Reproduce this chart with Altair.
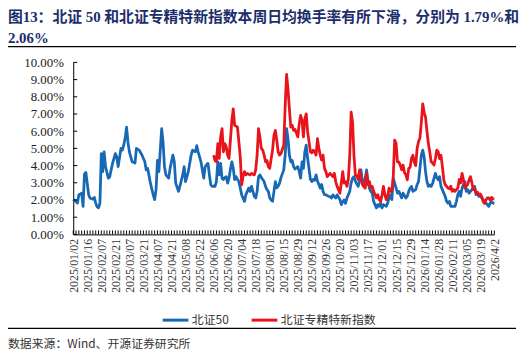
import json
import altair as alt
import pandas as pd

# x-axis category labels (every 10 trading days)
labels = ["2025/01/02", "2025/01/16", "2025/02/07", "2025/02/21", "2025/03/07",
          "2025/03/21", "2025/04/07", "2025/04/21", "2025/05/08", "2025/05/22",
          "2025/06/06", "2025/06/20", "2025/07/04", "2025/07/18", "2025/08/01",
          "2025/08/15", "2025/08/29", "2025/09/12", "2025/09/26", "2025/10/20",
          "2025/11/03", "2025/11/17", "2025/12/01", "2025/12/15", "2025/12/29",
          "2026/01/14", "2026/01/28", "2026/02/11", "2026/03/05", "2026/03/19",
          "2026/4/2"]

series_names = ["北证50", "北证专精特新指数"]

# 北证50 turnover (%), by trading-day index
blue_idx = [0, 1, 3, 4, 6, 7, 8, 9, 11, 12, 14, 15, 16, 17, 18, 19, 20, 21, 22, 23,
            25, 26, 28, 30, 31, 32, 34, 35, 36, 37, 38, 39, 40, 42, 44, 45, 47, 49, 51, 52,
            53, 55, 57, 58, 59, 60, 61, 63, 64, 65, 66, 68, 69, 71, 72, 73, 75, 76, 78, 79,
            80, 82, 84, 85, 87, 88, 89, 91, 93, 94, 95, 96, 97, 98, 99, 100, 101, 102, 103, 104,
            105, 106, 107, 108, 109, 110, 111, 112, 113, 114, 115, 116, 117, 118, 119, 120, 121, 122, 123, 124,
            125, 126, 127, 128, 129, 130, 131, 132, 133, 134, 135, 136, 137, 138, 139, 140, 141, 142, 143, 144,
            145, 146, 147, 148, 150, 151, 152, 153, 154, 155, 156, 157, 158, 160, 161, 162, 163, 164, 165, 166,
            167, 169, 170, 171, 172, 173, 174, 176, 177, 178, 179, 180, 182, 183, 184, 185, 186, 187, 188, 190,
            191, 192, 193, 194, 195, 197, 198, 199, 200, 201, 203, 204, 205, 206, 207, 209, 210, 211, 212, 213,
            214, 216, 217, 218, 219, 220, 221, 223, 224, 225, 226, 227, 228, 230, 231, 232, 233, 234, 235, 237,
            238, 239, 240, 241, 242, 244, 245, 246, 247, 248, 249, 250, 251, 252, 253, 254, 255, 256, 258, 259,
            260, 261, 262, 264, 265, 266, 267, 268, 269, 270, 272, 273, 274, 275, 276, 277, 279, 280, 281, 282,
            283, 284, 286, 287, 288, 289, 290, 291, 292, 293, 295, 296, 297, 298, 299, 300]
blue_val = [1.92, 2.0, 1.83, 2.3, 2.4, 1.63, 3.5, 3.6, 2.3, 2.1, 2.05, 2.15, 1.83, 1.6, 1.55, 1.8, 4.7, 3.65, 4.8, 3.94,
            3.27, 3.35, 4.13, 4.7, 4.5, 3.94, 5.0, 4.9, 5.2, 5.6, 6.24, 5.35, 4.8, 4.22, 4.15, 5.0, 4.9, 4.6, 4.22, 3.75,
            3.84, 2.98, 2.3, 2.02, 2.6, 4.3, 3.65, 6.15, 5.35, 3.94, 3.46, 3.27, 3.84, 4.61, 4.22, 2.98, 2.5, 2.8, 3.46, 3.94,
            3.07, 3.65, 4.61, 4.9, 4.8, 5.16, 4.8, 4.22, 3.27, 3.94, 4.05, 4.13, 3.46, 2.88, 2.79, 2.8, 2.79, 3.07, 4.22, 3.46,
            4.13, 3.27, 3.19, 3.3, 3.36, 2.98, 3.27, 3.8, 4.22, 3.84, 3.19, 3.36, 3.2, 3.07, 2.69, 2.31, 2.1, 1.92, 2.31, 2.5,
            2.69, 2.5, 2.79, 2.5, 2.21, 2.12, 2.5, 3.36, 3.46, 3.3, 3.19, 3.07, 2.79, 2.6, 2.5, 2.12, 2.0, 1.92, 2.5, 3.07,
            2.7, 2.8, 2.98, 3.3, 3.75, 4.61, 6.15, 5.57, 4.61, 4.22, 4.3, 3.94, 3.8, 3.94, 3.65, 3.27, 4.22, 3.84, 4.8, 5.19,
            4.42, 3.19, 3.07, 3.2, 3.15, 3.46, 3.1, 2.69, 2.9, 2.5, 2.31, 2.3, 2.21, 2.2, 2.12, 2.3, 2.2, 2.12, 2.3, 2.02,
            1.73, 1.9, 2.0, 1.8, 2.12, 2.5, 3.0, 3.27, 3.36, 3.1, 2.79, 3.1, 3.75, 3.1, 2.79, 3.75, 3.1, 2.69, 2.5, 2.4,
            1.92, 1.54, 1.73, 1.63, 1.82, 1.54, 1.73, 1.63, 1.82, 2.12, 2.31, 2.02, 3.27, 2.69, 2.4, 2.5, 2.31, 2.12, 2.4, 2.12,
            2.21, 2.5, 2.69, 2.79, 2.5, 2.6, 2.9, 3.07, 3.84, 4.61, 4.9, 4.5, 3.65, 3.07, 2.79, 2.88, 2.79, 2.95, 3.55, 3.3,
            3.17, 3.36, 2.79, 2.4, 2.21, 1.92, 1.82, 1.92, 1.63, 1.63, 1.63, 1.92, 2.31, 2.5, 2.21, 2.69, 3.07, 2.5, 2.6, 2.4,
            2.5, 2.6, 2.79, 2.31, 2.4, 2.21, 2.31, 2.12, 2.02, 1.92, 1.73, 1.63, 1.82, 1.92, 1.82, 1.79]

# 北证专精特新指数 turnover (%), from its launch
red_idx = list(range(100, 148)) + [148, 150, 151, 152, 153, 154] + list(range(155, 168)) + \
          list(range(169, 182)) + list(range(183, 189)) + list(range(190, 301))
red_val = [4.61, 4.3, 4.22, 5.28, 4.42, 5.67, 6.15, 4.8, 5.28, 5.09, 4.61, 4.42, 5.5, 6.63, 7.3, 6.34, 6.3, 6.24, 5.38, 4.51,
           2.88, 3.4, 3.65, 3.46, 3.55, 3.5, 3.46, 3.55, 3.5, 3.46, 3.75, 4.61, 6.15, 5.67, 5.0, 4.9, 4.61, 4.22, 4.3, 3.94,
           3.84, 4.4, 4.9, 5.76, 6.05, 5.47, 4.8, 4.61,
           4.7, 5.19, 7.49, 9.3, 8.45, 7.3,
           6.24, 6.34, 6.05, 6.1, 5.9, 5.67, 6.43, 6.92, 6.63, 5.67, 6.72, 7.01, 5.96,
           4.8, 4.75, 4.9, 4.8, 4.61, 5.57, 5.0, 4.6, 4.32, 4.61, 3.84, 3.65, 3.36,
           3.55, 3.46, 3.36, 3.55, 3.07, 2.79,
           2.4, 3.0, 3.65, 2.98, 3.07, 2.79, 3.2, 4.61, 7.11, 6.53, 4.61, 3.46, 3.4, 3.19, 3.75, 3.27, 2.9, 2.79, 2.69, 3.55,
           2.9, 3.07, 2.69, 2.79, 2.5, 2.31, 2.12, 2.31, 2.02, 1.92, 2.3, 2.79, 2.31, 2.02, 2.2, 2.69, 2.5, 2.5, 3.36, 5.48,
           5.3, 4.22, 4.2, 4.03, 3.75, 4.03, 3.6, 3.46, 3.17, 3.84, 3.9, 4.42, 4.6, 4.2, 4.0, 5.0, 5.4, 5.6, 6.5, 7.59,
           7.1, 6.82, 6.0, 5.28, 4.8, 4.22, 4.15, 4.03, 4.4, 4.9, 4.8, 4.4, 4.6, 3.94, 3.17, 2.88, 2.8, 2.69, 2.65, 2.8,
           2.5, 2.6, 2.5, 2.6, 2.69, 3.2, 3.0, 3.55, 3.17, 2.69, 2.79, 2.9, 3.17, 3.36, 3.0, 2.6, 2.65, 2.4, 2.45, 2.3,
           2.35, 2.21, 1.92, 1.8, 2.0, 2.12, 2.12, 2.0, 2.15, 2.06, 2.06]

y_ticks = [0, 1, 2, 3, 4, 5, 6, 7, 8, 9, 10]
x_ticks = list(range(0, 301, 2))

title1 = "图13：北证 50 和北证专精特新指数本周日均换手率有所下滑，分别为 1.79%和"
title2 = "2.06%"
source = "数据来源：Wind、开源证券研究所"

BLUE = "#1768B5"
RED = "#E8131B"
TITLE_C = "#1B2D6B"
SERIF = "Liberation Serif, Noto Sans CJK SC"
CJK = "Noto Sans CJK SC"

df = pd.concat([
    pd.DataFrame({"idx": blue_idx, "value": blue_val, "series": series_names[0]}),
    pd.DataFrame({"idx": red_idx, "value": red_val, "series": series_names[1]}),
])

label_js = json.dumps(labels, ensure_ascii=False)

x_scale = alt.Scale(domain=[0, 300], nice=False, zero=False)
y_scale = alt.Scale(domain=[0, 10], nice=False)
x_axis = alt.Axis(values=list(range(0, 301, 10)),
                  labelExpr=f"{label_js}[round(datum.value / 10)]",
                  labelAngle=270, labelFont="Liberation Serif", labelFontSize=12,
                  labelColor="#333333", labelOverlap=False, labelFlush=False,
                  labelPadding=4, ticks=False, grid=False, title=None,
                  domainColor="#000000", domainWidth=1)
y_axis = alt.Axis(values=y_ticks, labelExpr="format(datum.value, '.2f') + '%'",
                  labelFont="Liberation Serif", labelFontSize=13, labelColor="#222222",
                  labelOverlap=False, labelFlush=False,
                  labelPadding=10, ticks=False, grid=False, title=None,
                  domainColor="#000000", domainWidth=1)

lines = alt.Chart(df).mark_line(strokeWidth=2.8, strokeJoin="round").encode(
    x=alt.X("idx:Q", scale=x_scale, axis=x_axis, title=None),
    y=alt.Y("value:Q", scale=y_scale, axis=y_axis, title=None),
    color=alt.Color("series:N", sort=series_names,
                    scale=alt.Scale(domain=series_names, range=[BLUE, RED]),
                    legend=alt.Legend(orient="none", legendX=89, legendY=246, direction="horizontal",
                                      title=None, symbolType="stroke", symbolSize=676,
                                      symbolStrokeWidth=3, labelFont=CJK, labelFontSize=12,
                                      labelColor="#333333", columnPadding=16, labelOffset=2)),
    order="idx:Q",
)

ytick_layer = alt.Chart(pd.DataFrame({"yt": y_ticks})).mark_rule(color="#000000", strokeWidth=1).encode(
    y=alt.Y("yt:Q", scale=y_scale, axis=y_axis, title=None), x=alt.value(0), x2=alt.value(4))

xtick_layer = alt.Chart(pd.DataFrame({"xt": x_ticks})).mark_rule(color="#000000", strokeWidth=1).encode(
    x=alt.X("xt:Q", scale=x_scale, axis=x_axis, title=None), y=alt.value(170), y2=alt.value(174))

def text_layer(txt, x, y, size, font, color, weight="normal"):
    return alt.Chart(pd.DataFrame({"t": [txt]})).mark_text(
        align="left", baseline="middle", fontSize=size, font=font, color=color, fontWeight=weight
    ).encode(text="t:N", x=alt.value(x), y=alt.value(y))

def hrule(y):
    return alt.Chart(pd.DataFrame({"a": [0]})).mark_rule(color="#000000", strokeWidth=1.2).encode(
        x=alt.value(-66), x2=alt.value(448), y=alt.value(y))

chart = alt.layer(
    lines, ytick_layer, xtick_layer,
    text_layer(title1, -66, -46, 15, SERIF, TITLE_C, "bold"),
    text_layer(title2, -66, -25, 15, SERIF, TITLE_C, "bold"),
    hrule(-16), hrule(269),
    text_layer(source, -66, 285, 12, CJK, "#333333"),
).properties(
    width=426, height=174,
    autosize=alt.AutoSizeParams(type="none"),
    padding={"left": 66, "top": 53, "right": 28, "bottom": 122},
    background="white",
).configure_view(stroke=None)

chart.save("out.html", embed_options={"renderer": "svg", "actions": False})
